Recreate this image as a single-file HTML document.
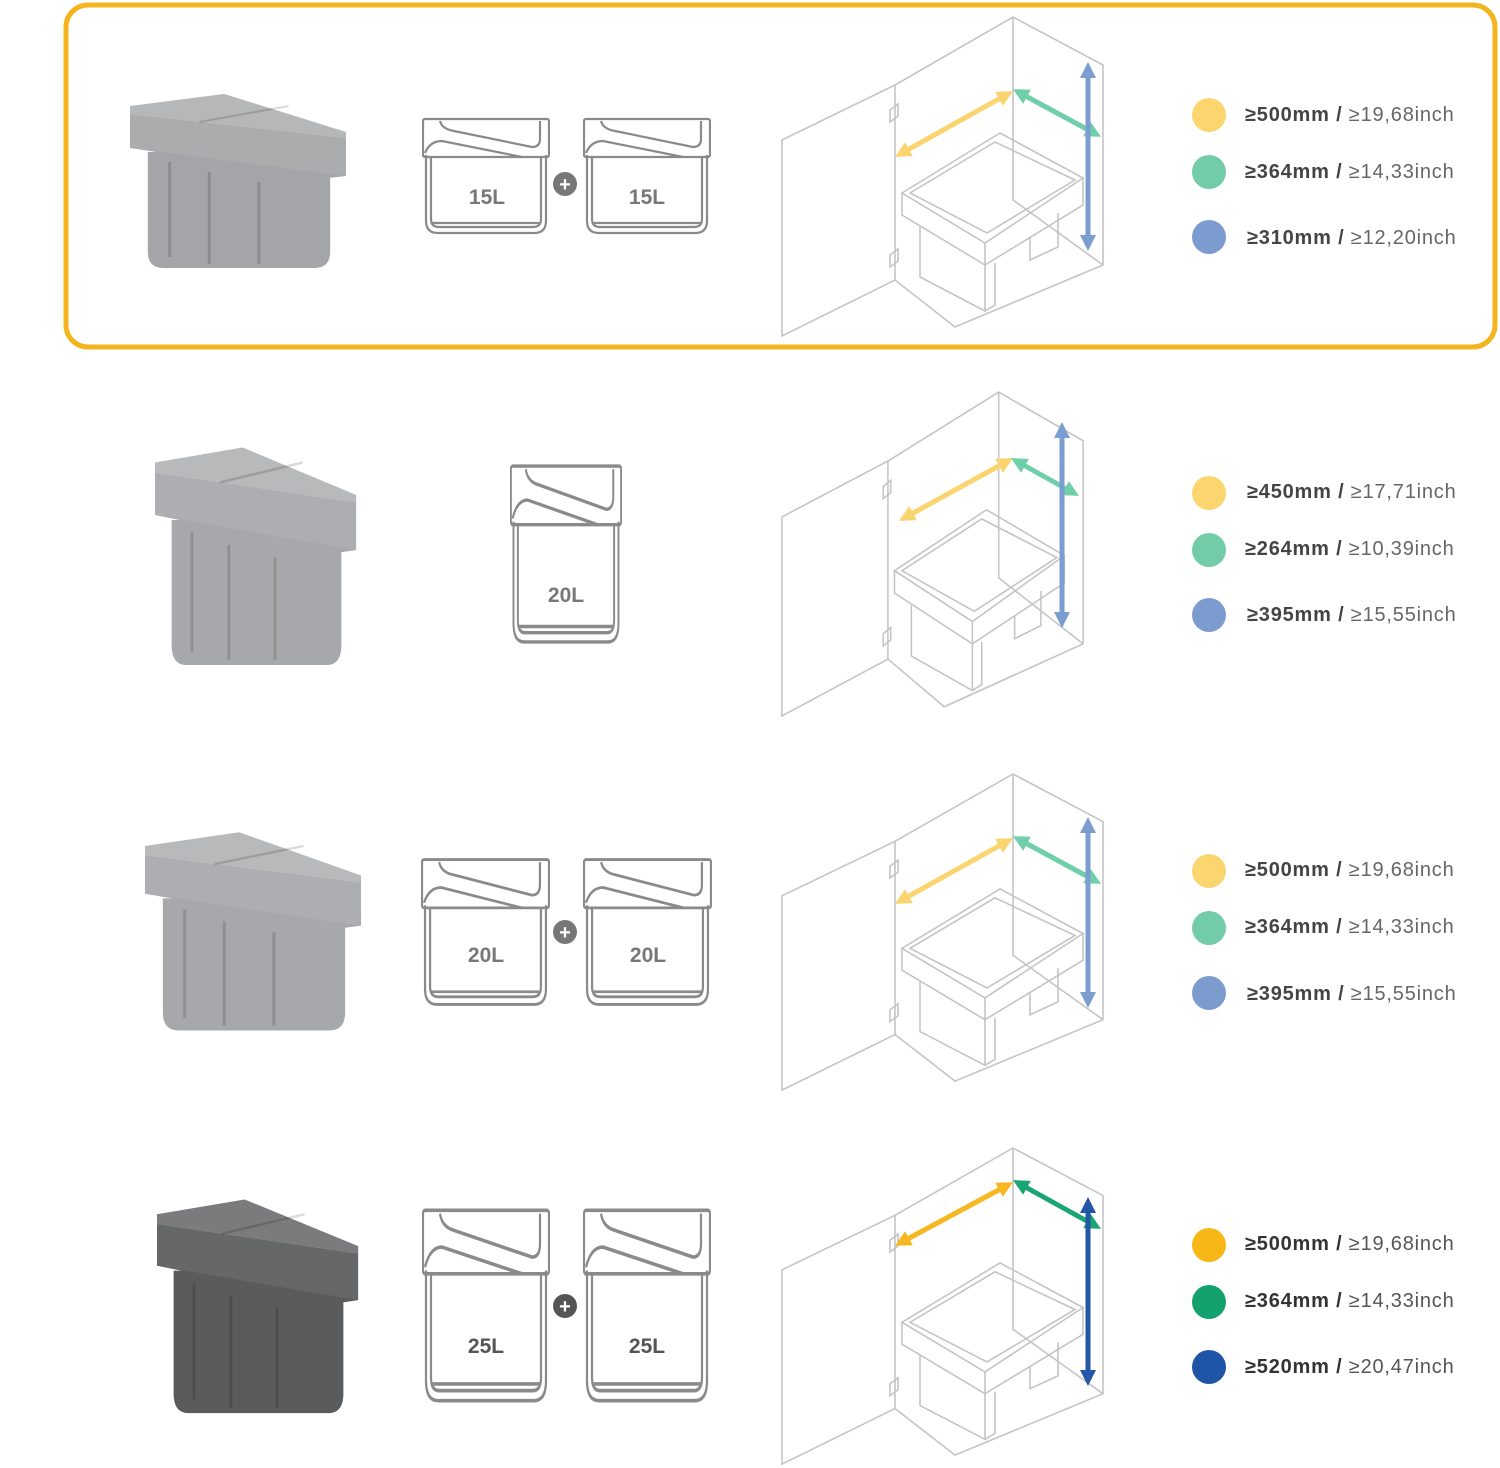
<!DOCTYPE html>
<html><head><meta charset="utf-8"><style>
html,body{margin:0;padding:0;background:#fff;}
body{width:1500px;height:1468px;position:relative;overflow:hidden;font-family:"Liberation Sans",sans-serif;}
</style></head><body>
<svg width="1500" height="1468" viewBox="0 0 1500 1468" xmlns="http://www.w3.org/2000/svg" style="position:absolute;left:0;top:0">
<defs>
<symbol id="bin" viewBox="0 0 128 118" preserveAspectRatio="none">
  <g fill="none" stroke="#8a8a8a" stroke-width="2.2">
    <path d="M4 38 V104 Q4 116 16 116 H112 Q124 116 124 104 V38"/>
    <path d="M9 40 V102 Q9 110 17 110 H111 Q119 110 119 102 V40"/>
    <path d="M9 106 H119"/>
    <rect x="1" y="2" width="126" height="38" rx="2"/>
    <path d="M18 4 Q20 12 32 14 L110 30 Q118 30 118 22 V4"/>
    <path d="M3 36 Q8 24 20 24 L100 40"/>
  </g>
</symbol>
<symbol id="cab" viewBox="0 0 325 325" preserveAspectRatio="none">
  <g fill="none" stroke="#c4c4c4" stroke-width="1.6">
    <path d="M2 125 L115 70 V265 L2 321 Z"/>
    <path d="M115 70 L233 2 L323 50 V250 L175 312 L115 265"/>
    <path d="M233 2 V185 L323 250"/>
    <path d="M122 178 L220 118 L303 163 L205 228 Z"/>
    <path d="M130 178 L215 127 L295 165 L207 218 Z"/>
    <path d="M122 178 V200 L205 250 L303 190 V163"/>
    <path d="M205 228 V250"/>
    <path d="M140 212 V262 L205 296 V250 M205 296 L215 290 V248"/>
    <path d="M250 222 V245 L278 232 V198"/>
    <path d="M110 95 l8 -6 v12 l-8 6z M110 240 l8 -6 v12 l-8 6z"/>
  </g>
</symbol>
<symbol id="prod" viewBox="0 0 220 180" preserveAspectRatio="none">
  <path d="M18 60 H202 V160 Q202 176 186 176 H34 Q18 176 18 160 Z" fill="currentColor"/>
  <path d="M0 22 L218 46 L218 84 L200 86 L0 56 Z" fill="currentColor"/>
  <path d="M0 22 L218 46 L218 84 L0 56 Z" fill="#fff" opacity="0.08"/>
  <path d="M0 14 L95 2 L218 40 L218 46 L0 22 Z" fill="currentColor"/>
  <path d="M0 14 L95 2 L218 40 L218 46 L0 22 Z" fill="#fff" opacity="0.2"/>
  <path d="M70 30 L160 14" stroke="#000" stroke-opacity="0.15" stroke-width="2"/>
  <path d="M40 70 V165 M80 80 V172 M130 90 V172" stroke="#000" stroke-opacity="0.15" stroke-width="3"/>
</symbol>
<marker id="ah" viewBox="0 0 10 10" refX="5" refY="5" markerWidth="3.2" markerHeight="3.2" orient="auto-start-reverse"><path d="M0 0 L10 5 L0 10 Z" fill="context-stroke"/></marker>
</defs>

<rect x="66" y="5" width="1429" height="342" rx="22" fill="none" stroke="#f4b41e" stroke-width="5"/>

<use href="#prod" x="130" y="92" width="218" height="180" style="color:#a3a5a8"/>
<use href="#prod" x="155" y="445" width="203" height="225" style="color:#a6a8ab"/>
<use href="#prod" x="145" y="830" width="218" height="205" style="color:#a6a8ab"/>
<use href="#prod" x="157" y="1197" width="203" height="221" style="color:#5a5b5d"/>

<g font-family="Liberation Sans, sans-serif" font-weight="bold" font-size="21" fill="#777" text-anchor="middle">
<use href="#bin" x="422" y="117" width="128" height="118"/>
<use href="#bin" x="583" y="117" width="128" height="118"/>
<circle cx="565" cy="184" r="12" fill="#777"/><text x="565" y="191" fill="#fff" font-size="20">+</text>
<text x="487" y="204">15L</text><text x="647" y="204">15L</text>

<use href="#bin" x="510" y="463" width="112" height="182"/>
<text x="566" y="602">20L</text>

<use href="#bin" x="421" y="857" width="129" height="150"/>
<use href="#bin" x="583" y="857" width="129" height="150"/>
<circle cx="565" cy="932" r="12" fill="#777"/><text x="565" y="939" fill="#fff" font-size="20">+</text>
<text x="486" y="962">20L</text><text x="648" y="962">20L</text>

<use href="#bin" x="422" y="1207" width="128" height="197"/>
<use href="#bin" x="583" y="1207" width="128" height="197"/>
<circle cx="565" cy="1306" r="12" fill="#555"/><text x="565" y="1313" fill="#fff" font-size="20">+</text>
<text x="486" y="1353" fill="#555">25L</text><text x="647" y="1353" fill="#555">25L</text>
</g>

<use href="#cab" x="780" y="15" width="325" height="325"/>
<use href="#cab" x="780" y="390" width="305" height="330"/>
<use href="#cab" x="780" y="772" width="325" height="322"/>
<use href="#cab" x="780" y="1146" width="325" height="322"/>

<g stroke-width="5" fill="none" marker-start="url(#ah)" marker-end="url(#ah)">
<line x1="902" y1="153" x2="1006" y2="95" stroke="#f9d46f"/>
<line x1="1020" y1="93" x2="1094" y2="133" stroke="#6fcfa9"/>
<line x1="1088" y1="70" x2="1088" y2="243" stroke="#7c9dd0"/>

<line x1="906" y1="517" x2="1006" y2="462" stroke="#f9d46f"/>
<line x1="1018" y1="462" x2="1072" y2="492" stroke="#6fcfa9"/>
<line x1="1062" y1="430" x2="1062" y2="620" stroke="#7c9dd0"/>

<line x1="902" y1="900" x2="1006" y2="842" stroke="#f9d46f"/>
<line x1="1020" y1="840" x2="1094" y2="880" stroke="#6fcfa9"/>
<line x1="1088" y1="825" x2="1088" y2="1000" stroke="#7c9dd0"/>

<line x1="902" y1="1242" x2="1006" y2="1186" stroke="#f5b820"/>
<line x1="1020" y1="1184" x2="1094" y2="1225" stroke="#1aa673"/>
<line x1="1088" y1="1205" x2="1088" y2="1378" stroke="#2456a8"/>
</g>

<g font-family="Liberation Sans, sans-serif" font-size="20" letter-spacing="0.8">
<circle cx="1209" cy="115" r="17" fill="#fbd66f"/><text x="1245" y="121"><tspan font-weight="bold" fill="#444">≥500mm / </tspan><tspan fill="#666">≥19,68inch</tspan></text>
<circle cx="1209" cy="172" r="17" fill="#72cca8"/><text x="1245" y="178"><tspan font-weight="bold" fill="#444">≥364mm / </tspan><tspan fill="#666">≥14,33inch</tspan></text>
<circle cx="1209" cy="237" r="17" fill="#7c9ccf"/><text x="1247" y="244"><tspan font-weight="bold" fill="#444">≥310mm / </tspan><tspan fill="#666">≥12,20inch</tspan></text>

<circle cx="1209" cy="493" r="17" fill="#fbd66f"/><text x="1247" y="498"><tspan font-weight="bold" fill="#444">≥450mm / </tspan><tspan fill="#666">≥17,71inch</tspan></text>
<circle cx="1209" cy="550" r="17" fill="#72cca8"/><text x="1245" y="555"><tspan font-weight="bold" fill="#444">≥264mm / </tspan><tspan fill="#666">≥10,39inch</tspan></text>
<circle cx="1209" cy="615" r="17" fill="#7c9ccf"/><text x="1247" y="621"><tspan font-weight="bold" fill="#444">≥395mm / </tspan><tspan fill="#666">≥15,55inch</tspan></text>

<circle cx="1209" cy="871" r="17" fill="#fbd66f"/><text x="1245" y="876"><tspan font-weight="bold" fill="#444">≥500mm / </tspan><tspan fill="#666">≥19,68inch</tspan></text>
<circle cx="1209" cy="928" r="17" fill="#72cca8"/><text x="1245" y="933"><tspan font-weight="bold" fill="#444">≥364mm / </tspan><tspan fill="#666">≥14,33inch</tspan></text>
<circle cx="1209" cy="993" r="17" fill="#7c9ccf"/><text x="1247" y="1000"><tspan font-weight="bold" fill="#444">≥395mm / </tspan><tspan fill="#666">≥15,55inch</tspan></text>

<circle cx="1209" cy="1245" r="17" fill="#f7b717"/><text x="1245" y="1250"><tspan font-weight="bold" fill="#333">≥500mm / </tspan><tspan fill="#555">≥19,68inch</tspan></text>
<circle cx="1209" cy="1302" r="17" fill="#13a26d"/><text x="1245" y="1307"><tspan font-weight="bold" fill="#333">≥364mm / </tspan><tspan fill="#555">≥14,33inch</tspan></text>
<circle cx="1209" cy="1367" r="17" fill="#1f55a6"/><text x="1245" y="1373"><tspan font-weight="bold" fill="#333">≥520mm / </tspan><tspan fill="#555">≥20,47inch</tspan></text>
</g>
</svg>
</body></html>
